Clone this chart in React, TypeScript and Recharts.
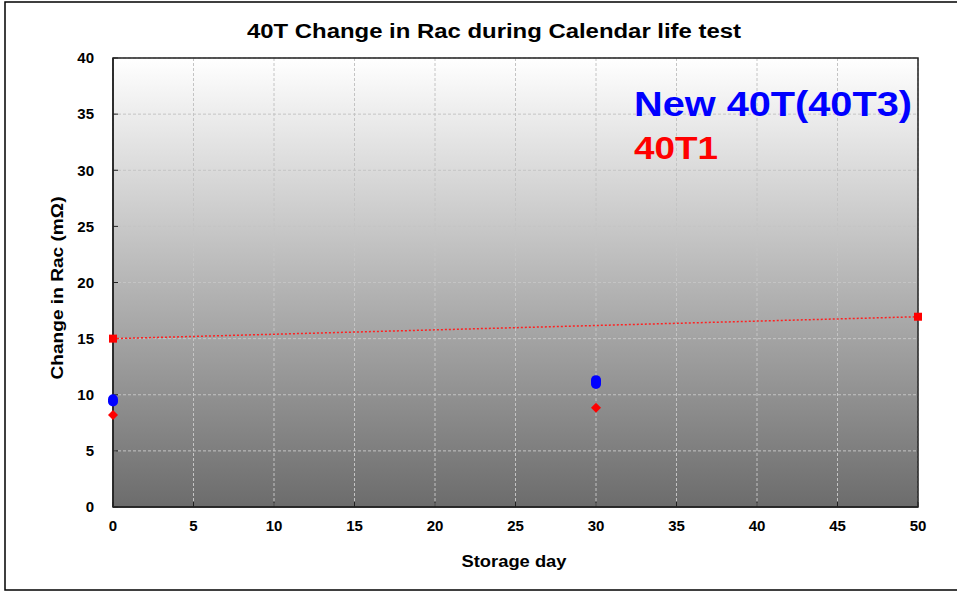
import {
  ComposedChart,
  CartesianGrid,
  ReferenceArea,
  Scatter,
  XAxis,
  YAxis,
} from "recharts";

// 40T3 (new) samples, red 40T1 samples and the 40T1 linear trend
const t3Days = [0, 0, 30, 30, 30];
const t3Rac = [9.4, 9.6, 10.95, 11.15, 11.3];
const t1DiamondDays = [0, 30];
const t1DiamondRac = [8.2, 8.85];
const t1SquareDays = [0, 50];
const t1SquareRac = [15.0, 16.95];
const trendDays = [0, 50];
const trendRac = [15.0, 16.95];

const xTicks = [0, 5, 10, 15, 20, 25, 30, 35, 40, 45, 50];
const yTicks = [0, 5, 10, 15, 20, 25, 30, 35, 40];

const toPoints = (days: number[], rac: number[]) =>
  days.map((day, i) => ({ day, rac: rac[i] }));

const FONT = "'Liberation Sans', Arial, sans-serif";

const Circle = (props: any) => (
  <circle cx={props.cx} cy={props.cy} r={5} fill="#0000ff" />
);

const Diamond = (props: any) => {
  const { cx, cy } = props;
  const s = 5;
  return (
    <path
      d={`M${cx},${cy - s}L${cx + s},${cy}L${cx},${cy + s}L${cx - s},${cy}Z`}
      fill="#ff0000"
    />
  );
};

const Square = (props: any) => (
  <rect x={props.cx - 4} y={props.cy - 4} width={8} height={8} fill="#ff0000" />
);

const Nothing = () => <g />;

const tickStyle = {
  fill: "#000",
  fontSize: 15,
  fontWeight: 700,
  fontFamily: FONT,
};

export default function App() {
  return (
    <div style={{ position: "absolute", left: 0, top: 0 }}>
      <ComposedChart
        width={957}
        height={592}
        margin={{ top: 58, right: 39, bottom: 55, left: 0 }}
        style={{ fontFamily: FONT, background: "#fff" }}
      >
        <defs>
          <linearGradient id="plotBg" x1="0" y1="0" x2="0" y2="1">
            <stop offset="0%" stopColor="#ffffff" />
            <stop offset="100%" stopColor="#6c6c6c" />
          </linearGradient>
        </defs>
        <rect x={5} y={2} width={960} height={588} fill="none" stroke="#000" strokeWidth={1.5} />
        <CartesianGrid
          fill="url(#plotBg)"
          fillOpacity={1}
          stroke="#c4c4c4"
          strokeDasharray="3 2"
        />
        <XAxis
          type="number"
          dataKey="day"
          height={30}
          domain={[0, 50]}
          ticks={xTicks}
          interval={0}
          tickSize={-5}
          tickMargin={18}
          tick={tickStyle}
          stroke="#222"
          axisLine={{ stroke: "#222", strokeWidth: 1.5 }}
        />
        <YAxis
          type="number"
          dataKey="rac"
          width={113}
          domain={[0, 40]}
          ticks={yTicks}
          interval={0}
          tickSize={-5}
          tickMargin={24}
          tick={tickStyle}
          stroke="#222"
          axisLine={{ stroke: "#222", strokeWidth: 1.5 }}
        />
        <ReferenceArea
          x1={0}
          x2={50}
          y1={0}
          y2={40}
          fill="none"
          stroke="#222"
          strokeWidth={1.5}
        />
        <Scatter
          data={toPoints(trendDays, trendRac)}
          line={{ stroke: "#ff2020", strokeWidth: 1.5, strokeDasharray: "2 2" }}
          shape={Nothing}
          isAnimationActive={false}
        />
        <Scatter
          data={toPoints(t1DiamondDays, t1DiamondRac)}
          shape={Diamond}
          isAnimationActive={false}
        />
        <Scatter
          data={toPoints(t1SquareDays, t1SquareRac)}
          shape={Square}
          isAnimationActive={false}
        />
        <Scatter
          data={toPoints(t3Days, t3Rac)}
          shape={Circle}
          isAnimationActive={false}
        />
        <text
          x={494}
          y={38}
          textAnchor="middle"
          fontSize={20}
          fontWeight={700}
          textLength={494}
          lengthAdjust="spacingAndGlyphs"
          fill="#000"
        >
          40T Change in Rac during Calendar life test
        </text>
        <text
          x={634}
          y={116}
          fontSize={35}
          fontWeight={700}
          textLength={278}
          lengthAdjust="spacingAndGlyphs"
          fill="#0000ff"
        >
          New 40T(40T3)
        </text>
        <text
          x={634}
          y={159}
          fontSize={31}
          fontWeight={700}
          textLength={84}
          lengthAdjust="spacingAndGlyphs"
          fill="#ff0000"
        >
          40T1
        </text>
        <text
          x={514}
          y={567}
          textAnchor="middle"
          fontSize={17}
          fontWeight={700}
          textLength={105}
          lengthAdjust="spacingAndGlyphs"
          fill="#000"
        >
          Storage day
        </text>
        <text
          transform="translate(63 288) rotate(-90)"
          textAnchor="middle"
          fontSize={17}
          fontWeight={700}
          textLength={183}
          lengthAdjust="spacingAndGlyphs"
          fill="#000"
        >
          Change in Rac (mΩ)
        </text>
      </ComposedChart>
    </div>
  );
}
